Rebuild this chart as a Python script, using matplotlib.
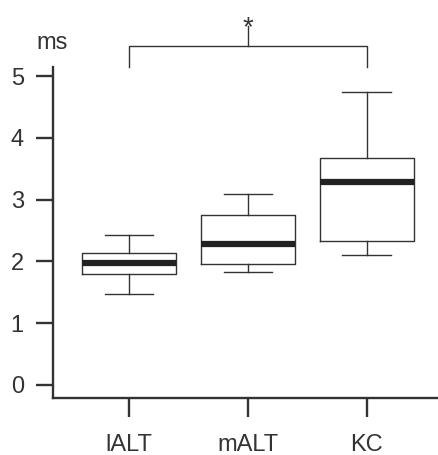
import matplotlib
matplotlib.use('Agg')
import matplotlib.pyplot as plt

plt.rcParams['font.family'] = ['Liberation Sans', 'DejaVu Sans']

# values (ms)
groups = ['lALT', 'mALT', 'KC']
whisker_low = [1.47, 1.83, 2.11]
q1 = [1.80, 1.95, 2.33]
medians = [1.98, 2.28, 3.28]
q3 = [2.14, 2.75, 3.68]
whisker_high = [2.43, 3.09, 4.75]

stats = []
for i, name in enumerate(groups):
    stats.append({'label': name, 'whislo': whisker_low[i], 'q1': q1[i],
                  'med': medians[i], 'q3': q3[i], 'whishi': whisker_high[i],
                  'fliers': []})

dark = '#333333'
fig = plt.figure(figsize=(4.38, 4.55), dpi=100)
ax = fig.add_axes([53 / 438, 57 / 455, 385 / 438, 331 / 455])

ax.bxp(stats, positions=[1, 2, 3], widths=0.79, showfliers=False,
       boxprops=dict(color=dark, linewidth=1.0),
       whiskerprops=dict(color=dark, linewidth=1.0),
       capprops=dict(color=dark, linewidth=1.0),
       medianprops=dict(color='#222222', linewidth=4.5, solid_capstyle='butt'),
       capwidths=0.41)

ax.set_xlim(0.36, 3.6)
ax.set_ylim(-0.215, 5.15)
ax.set_yticks([0, 1, 2, 3, 4, 5])
ax.set_xticks([1, 2, 3])
ax.set_xticklabels(groups)

for s in ['top', 'right']:
    ax.spines[s].set_visible(False)
for s in ['left', 'bottom']:
    ax.spines[s].set_linewidth(1.7)
    ax.spines[s].set_color(dark)
ax.tick_params(axis='y', length=12, width=1.7, color=dark, pad=9,
               labelsize=17, labelcolor=dark)
ax.tick_params(axis='x', length=14, width=1.7, color=dark, pad=12,
               labelsize=17, labelcolor=dark)

# significance bracket between lALT and KC
ax.plot([1, 1, 3, 3], [5.15, 5.49, 5.49, 5.15], color=dark, linewidth=1.0,
        clip_on=False)
ax.plot([2, 2], [5.49, 5.82], color=dark, linewidth=1.0, clip_on=False)
ax.text(2, 5.78, '*', ha='center', va='center', fontsize=20, color=dark,
        clip_on=False)

ax.text(-0.042, 1.072, 'ms', transform=ax.transAxes, ha='left', va='center',
        fontsize=17, color=dark)

fig.savefig('out.png', dpi=100)
